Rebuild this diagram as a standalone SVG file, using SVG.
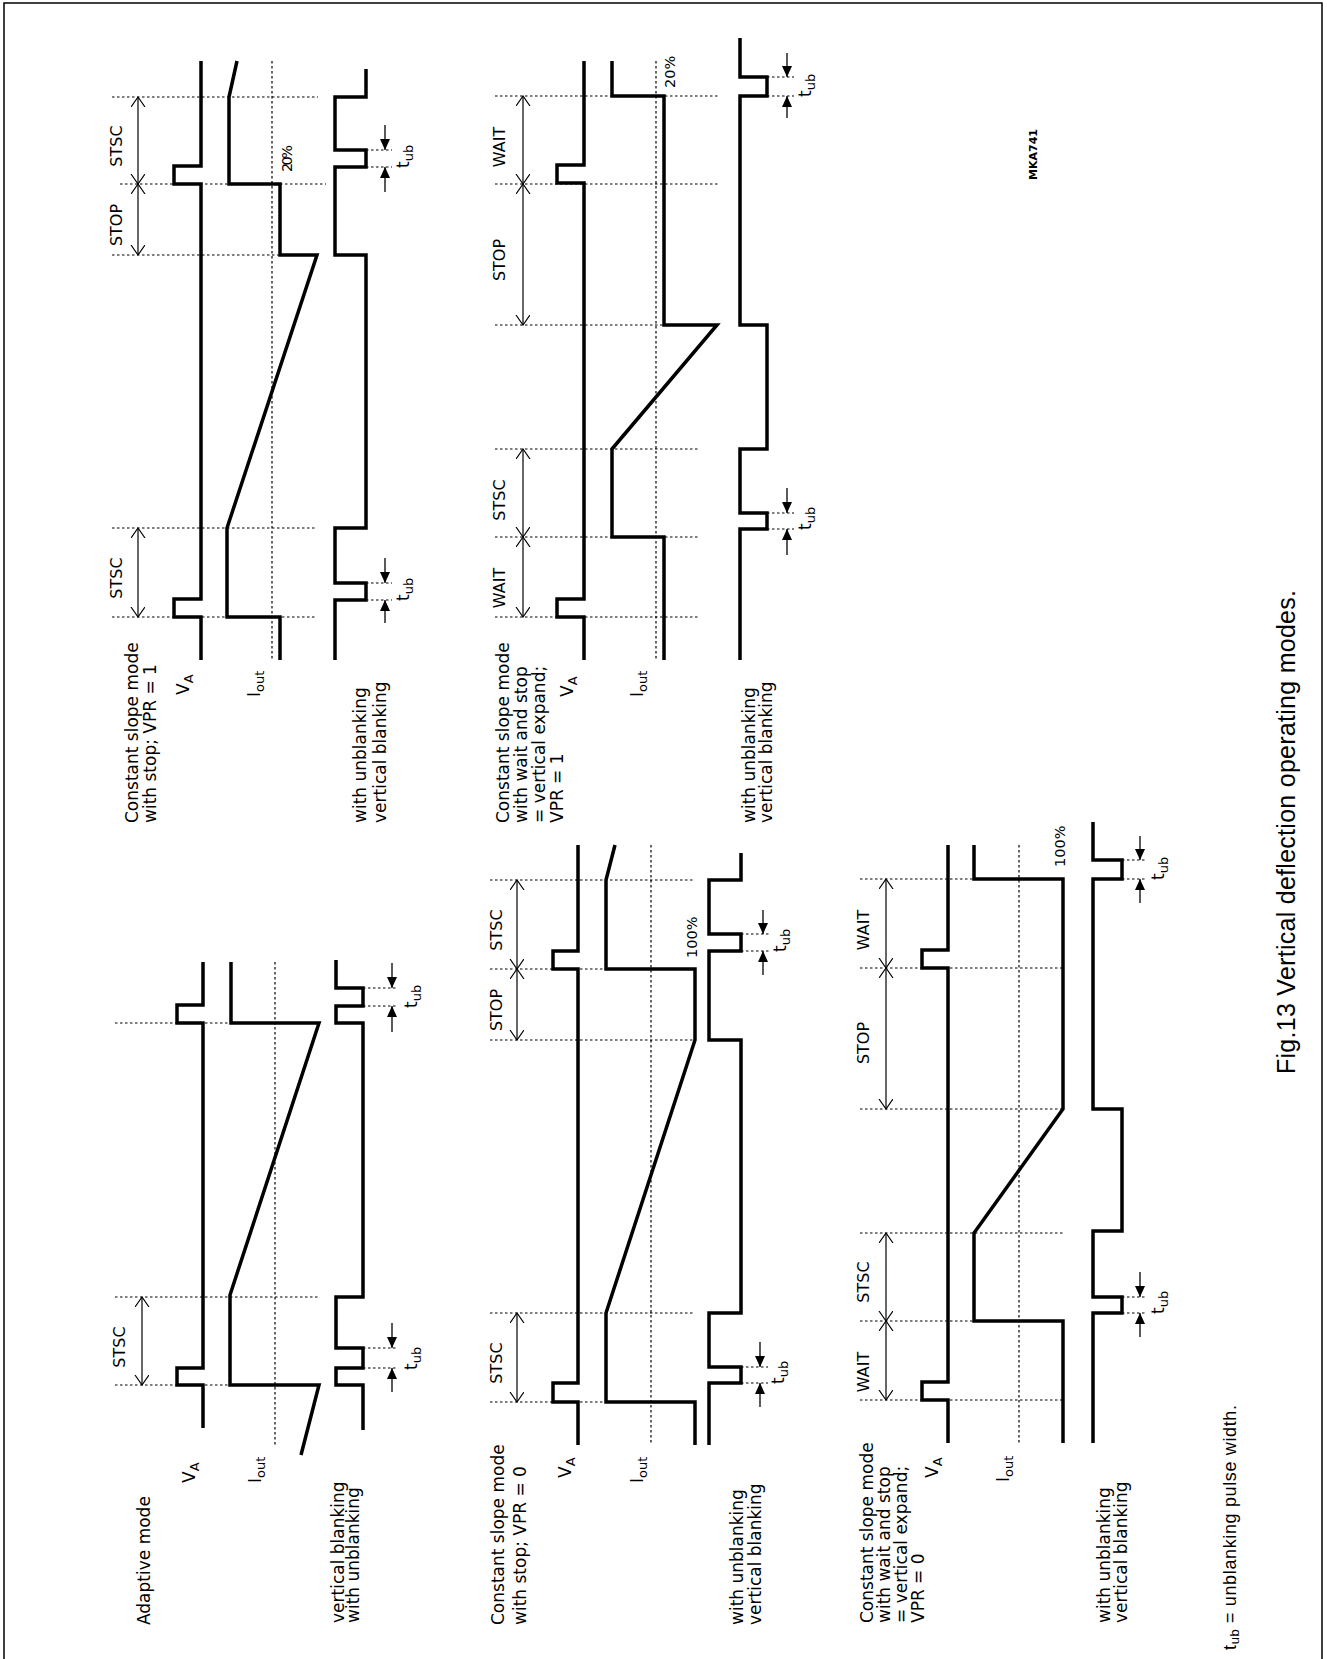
<svg xmlns="http://www.w3.org/2000/svg" width="1327" height="1659" viewBox="0 0 1327 1659">
<style>
.sig{fill:none;stroke:#000;stroke-width:3.5;stroke-linejoin:miter;stroke-linecap:butt}
.dot{fill:none;stroke:#000;stroke-width:1.2;stroke-dasharray:2.5 2.5}
.dim{fill:none;stroke:#000;stroke-width:1.2;marker-start:url(#va);marker-end:url(#va)}
.tarr{fill:none;stroke:#000;stroke-width:1.3;marker-end:url(#fa)}
text{font-family:"DejaVu Sans",sans-serif;font-size:17px;fill:#000}
.lab{font-size:16px}
.pct{font-size:14.5px}
.sub{font-size:13px}
.cap{font-family:"Liberation Sans",Arial,sans-serif;font-size:25px}
.fn{font-family:"Liberation Sans",Arial,sans-serif;font-size:18px}
.mk{font-size:11px;font-weight:bold}
</style>
<defs>
<marker id="fa" markerUnits="userSpaceOnUse" markerWidth="12" markerHeight="10" refX="11" refY="5" orient="auto"><path d="M0,0 L11,5 L0,10 z" fill="#000"/></marker>
<marker id="va" markerUnits="userSpaceOnUse" markerWidth="12" markerHeight="16" refX="10" refY="7" orient="auto-start-reverse"><path d="M0,0 L10,7 L0,14" fill="none" stroke="#000" stroke-width="1.2"/></marker>
</defs>
<path d="M4,1659 V3 H1322 V1659" fill="none" stroke="#000" stroke-width="1.5"/>

<!-- Panel A: Adaptive mode -->
<g id="panel-adaptive">
<g id="a-guides">
<path class="dot" d="M115,1023 H231 M115,1297 H320 M115,1385 H231 M363,988 H398 M363,1006 H398 M363,1348 H398 M363,1368 H398 M275,962 V1447"/>
</g>
<path class="sig" d="M203,962 V1005 H177 V1023 H203 V1368 H177 V1385 H203 V1428"/>
<path class="sig" d="M231,962 V1023 H319 L230,1295 V1385 H319 L301,1455"/>
<path class="sig" d="M336,960 V988 H363 V1006 H336 V1023 H363 V1297 H336 V1348 H363 V1368 H336 V1385 H363 V1430"/>
<text transform="translate(150,1625) rotate(-90)">Adaptive mode</text>
<text transform="translate(195,1483) rotate(-90)">V<tspan class="sub" dy="4">A</tspan></text>
<text transform="translate(261,1483) rotate(-90)">I<tspan class="sub" dy="4">out</tspan></text>
<text transform="translate(344,1623) rotate(-90)">vertical blanking</text>
<text transform="translate(359,1623) rotate(-90)">with unblanking</text>
<text class="lab" text-anchor="middle" transform="translate(125,1347) rotate(-90)">STSC</text>
<text transform="translate(417,1008) rotate(-90)">t<tspan class="sub" dy="4">ub</tspan></text>
<text transform="translate(417,1370) rotate(-90)">t<tspan class="sub" dy="4">ub</tspan></text>
</g>

<!-- Panel B: constant slope with stop, VPR=1 -->
<g id="panel-cs-stop-vpr1">
<g id="b-guides">
<path class="dot" d="M112,97 H318 M120,184 H326 M112,255 H318 M112,528 H317 M112,617 H317 M366,150 H392 M366,167 H392 M366,583 H392 M366,600 H392 M272,61 V660"/>
</g>
<path class="sig" d="M201,61 V166 H174 V184 H201 V599 H174 V617 H201 V660"/>
<path class="sig" d="M237,61 L229,97 V184 H280 V255 H317 L227,528 V617 H280 V660"/>
<path class="sig" d="M366,69 V97 H335 V150 H366 V167 H335 V255 H366 V528 H335 V583 H366 V600 H335 V660"/>
<text transform="translate(138,823) rotate(-90)">Constant slope mode</text>
<text transform="translate(156,823) rotate(-90)">with stop; VPR = 1</text>
<text transform="translate(189,695) rotate(-90)">V<tspan class="sub" dy="4">A</tspan></text>
<text transform="translate(260,697) rotate(-90)">I<tspan class="sub" dy="4">out</tspan></text>
<text transform="translate(366,823) rotate(-90)">with unblanking</text>
<text transform="translate(386,823) rotate(-90)">vertical blanking</text>
<text class="lab" text-anchor="middle" transform="translate(122,146) rotate(-90)">STSC</text>
<text class="lab" text-anchor="middle" transform="translate(122,225) rotate(-90)">STOP</text>
<text class="lab" text-anchor="middle" transform="translate(122,578) rotate(-90)">STSC</text>
<text class="pct" textLength="27" transform="translate(292,172) rotate(-90)">20%</text>
<text transform="translate(409,168) rotate(-90)">t<tspan class="sub" dy="4">ub</tspan></text>
<text transform="translate(409,601) rotate(-90)">t<tspan class="sub" dy="4">ub</tspan></text>
</g>

<!-- Panel C: constant slope with stop, VPR=0 -->
<g id="panel-cs-stop-vpr0">
<g id="c-guides">
<path class="dot" d="M490,880 H695 M490,969 H695 M490,1040 H695 M490,1313 H695 M490,1402 H695 M741,934 H770 M741,951 H770 M741,1367 H768 M741,1383 H768 M651,845 V1445"/>
</g>
<path class="sig" d="M578,845 V951 H553 V969 H578 V1383 H553 V1402 H578 V1445"/>
<path class="sig" d="M615,845 L606,880 V969 H695 V1040 L606,1313 V1402 H695 V1445"/>
<path class="sig" d="M741,853 V880 H709 V934 H741 V951 H709 V1040 H741 V1313 H709 V1367 H741 V1383 H709 V1445"/>
<text transform="translate(504,1625) rotate(-90)">Constant slope mode</text>
<text transform="translate(526,1625) rotate(-90)">with stop; VPR = 0</text>
<text transform="translate(571,1478) rotate(-90)">V<tspan class="sub" dy="4">A</tspan></text>
<text transform="translate(643,1483) rotate(-90)">I<tspan class="sub" dy="4">out</tspan></text>
<text transform="translate(743,1625) rotate(-90)">with unblanking</text>
<text transform="translate(761,1625) rotate(-90)">vertical blanking</text>
<text class="lab" text-anchor="middle" transform="translate(502,930) rotate(-90)">STSC</text>
<text class="lab" text-anchor="middle" transform="translate(502,1010) rotate(-90)">STOP</text>
<text class="lab" text-anchor="middle" transform="translate(502,1363) rotate(-90)">STSC</text>
<text class="pct" transform="translate(697,958) rotate(-90)">100%</text>
<text transform="translate(786,952) rotate(-90)">t<tspan class="sub" dy="4">ub</tspan></text>
<text transform="translate(784,1384) rotate(-90)">t<tspan class="sub" dy="4">ub</tspan></text>
</g>

<!-- Panel D: constant slope with wait and stop, VPR=1 -->
<g id="panel-cs-wait-vpr1">
<g id="d-guides">
<path class="dot" d="M495,96 H718 M495,184 H718 M495,325 H718 M495,449 H700 M495,537 H700 M495,617 H700 M767,77 H794 M767,96 H794 M767,513 H794 M767,529 H794 M656,61 V660"/>
</g>
<path class="sig" d="M584,61 V165 H557 V183 H584 V599 H557 V617 H584 V660"/>
<path class="sig" d="M612,61 V96 H664 V325 H717 L612,449 V537 H664 V660"/>
<path class="sig" d="M740,38 V77 H767 V96 H740 V325 H767 V449 H740 V513 H767 V529 H740 V660"/>
<text transform="translate(509,823) rotate(-90)">Constant slope mode</text>
<text transform="translate(527,823) rotate(-90)">with wait and stop</text>
<text transform="translate(545,823) rotate(-90)">= vertical expand;</text>
<text transform="translate(563,823) rotate(-90)">VPR = 1</text>
<text transform="translate(573,697) rotate(-90)">V<tspan class="sub" dy="4">A</tspan></text>
<text transform="translate(643,697) rotate(-90)">I<tspan class="sub" dy="4">out</tspan></text>
<text transform="translate(755,823) rotate(-90)">with unblanking</text>
<text transform="translate(772,823) rotate(-90)">vertical blanking</text>
<text class="lab" text-anchor="middle" transform="translate(505,147) rotate(-90)">WAIT</text>
<text class="lab" text-anchor="middle" transform="translate(505,260) rotate(-90)">STOP</text>
<text class="lab" text-anchor="middle" transform="translate(505,500) rotate(-90)">STSC</text>
<text class="lab" text-anchor="middle" transform="translate(505,588) rotate(-90)">WAIT</text>
<text class="pct" transform="translate(675,88) rotate(-90)">20%</text>
<text transform="translate(811,97) rotate(-90)">t<tspan class="sub" dy="4">ub</tspan></text>
<text transform="translate(811,530) rotate(-90)">t<tspan class="sub" dy="4">ub</tspan></text>
</g>

<!-- Panel E: constant slope with wait and stop, VPR=0 -->
<g id="panel-cs-wait-vpr0">
<g id="e-guides">
<path class="dot" d="M860,879 H1062 M860,968 H1062 M860,1109 H1062 M860,1233 H1063 M860,1321 H1063 M860,1400 H1063 M1122,860 H1147 M1122,879 H1147 M1122,1297 H1147 M1122,1313 H1147 M1019,845 V1445"/>
</g>
<path class="sig" d="M948,845 V950 H922 V968 H948 V1382 H922 V1400 H948 V1443"/>
<path class="sig" d="M974,845 V879 H1063 V1109 L974,1233 V1321 H1063 V1443"/>
<path class="sig" d="M1093,822 V860 H1122 V879 H1093 V1109 H1122 V1231 H1093 V1297 H1122 V1313 H1093 V1443"/>
<text transform="translate(873,1623) rotate(-90)">Constant slope mode</text>
<text transform="translate(890,1623) rotate(-90)">with wait and stop</text>
<text transform="translate(907,1623) rotate(-90)">= vertical expand;</text>
<text transform="translate(924,1623) rotate(-90)">VPR = 0</text>
<text transform="translate(938,1478) rotate(-90)">V<tspan class="sub" dy="4">A</tspan></text>
<text transform="translate(1009,1482) rotate(-90)">I<tspan class="sub" dy="4">out</tspan></text>
<text transform="translate(1110,1623) rotate(-90)">with unblanking</text>
<text transform="translate(1127,1623) rotate(-90)">vertical blanking</text>
<text class="lab" text-anchor="middle" transform="translate(869,930) rotate(-90)">WAIT</text>
<text class="lab" text-anchor="middle" transform="translate(869,1043) rotate(-90)">STOP</text>
<text class="lab" text-anchor="middle" transform="translate(869,1282) rotate(-90)">STSC</text>
<text class="lab" text-anchor="middle" transform="translate(869,1372) rotate(-90)">WAIT</text>
<text class="pct" transform="translate(1065,867) rotate(-90)">100%</text>
<text transform="translate(1164,880) rotate(-90)">t<tspan class="sub" dy="4">ub</tspan></text>
<text transform="translate(1164,1314) rotate(-90)">t<tspan class="sub" dy="4">ub</tspan></text>
</g>

<!-- connectors: dimension arrows and tub arrows -->
<g id="connectors">
<line class="dim" x1="142" y1="1297" x2="142" y2="1385"/>
<line class="tarr" x1="392" y1="963" x2="392" y2="988"/>
<line class="tarr" x1="392" y1="1032" x2="392" y2="1006"/>
<line class="tarr" x1="392" y1="1323" x2="392" y2="1348"/>
<line class="tarr" x1="392" y1="1392" x2="392" y2="1368"/>

<line class="dim" x1="138" y1="97" x2="138" y2="184"/>
<line class="dim" x1="138" y1="184" x2="138" y2="255"/>
<line class="dim" x1="138" y1="528" x2="138" y2="617"/>
<line class="tarr" x1="385" y1="125" x2="385" y2="150"/>
<line class="tarr" x1="385" y1="192" x2="385" y2="167"/>
<line class="tarr" x1="385" y1="558" x2="385" y2="583"/>
<line class="tarr" x1="385" y1="623" x2="385" y2="600"/>

<line class="dim" x1="517" y1="880" x2="517" y2="969"/>
<line class="dim" x1="517" y1="969" x2="517" y2="1040"/>
<line class="dim" x1="517" y1="1313" x2="517" y2="1402"/>
<line class="tarr" x1="763" y1="910" x2="763" y2="934"/>
<line class="tarr" x1="763" y1="975" x2="763" y2="951"/>
<line class="tarr" x1="760" y1="1342" x2="760" y2="1367"/>
<line class="tarr" x1="760" y1="1407" x2="760" y2="1383"/>

<line class="dim" x1="523" y1="96" x2="523" y2="184"/>
<line class="dim" x1="523" y1="184" x2="523" y2="325"/>
<line class="dim" x1="523" y1="449" x2="523" y2="537"/>
<line class="dim" x1="523" y1="537" x2="523" y2="617"/>
<line class="tarr" x1="787" y1="53" x2="787" y2="77"/>
<line class="tarr" x1="787" y1="118" x2="787" y2="96"/>
<line class="tarr" x1="787" y1="488" x2="787" y2="513"/>
<line class="tarr" x1="787" y1="555" x2="787" y2="529"/>

<line class="dim" x1="886" y1="879" x2="886" y2="968"/>
<line class="dim" x1="886" y1="968" x2="886" y2="1109"/>
<line class="dim" x1="886" y1="1233" x2="886" y2="1321"/>
<line class="dim" x1="886" y1="1321" x2="886" y2="1400"/>
<line class="tarr" x1="1140" y1="836" x2="1140" y2="860"/>
<line class="tarr" x1="1140" y1="903" x2="1140" y2="879"/>
<line class="tarr" x1="1140" y1="1272" x2="1140" y2="1297"/>
<line class="tarr" x1="1140" y1="1337" x2="1140" y2="1313"/>
</g>

<g id="captions">
<text class="mk" transform="translate(1037,180) rotate(-90)">MKA741</text>
<text class="cap" textLength="484" transform="translate(1295,1074) rotate(-90)">Fig.13  Vertical deflection operating modes.</text>
<text class="fn" textLength="245" transform="translate(1236,1650) rotate(-90)">t<tspan font-size="13" dy="3">ub</tspan><tspan dy="-3"> = unblanking pulse width.</tspan></text>
</g>
</svg>
